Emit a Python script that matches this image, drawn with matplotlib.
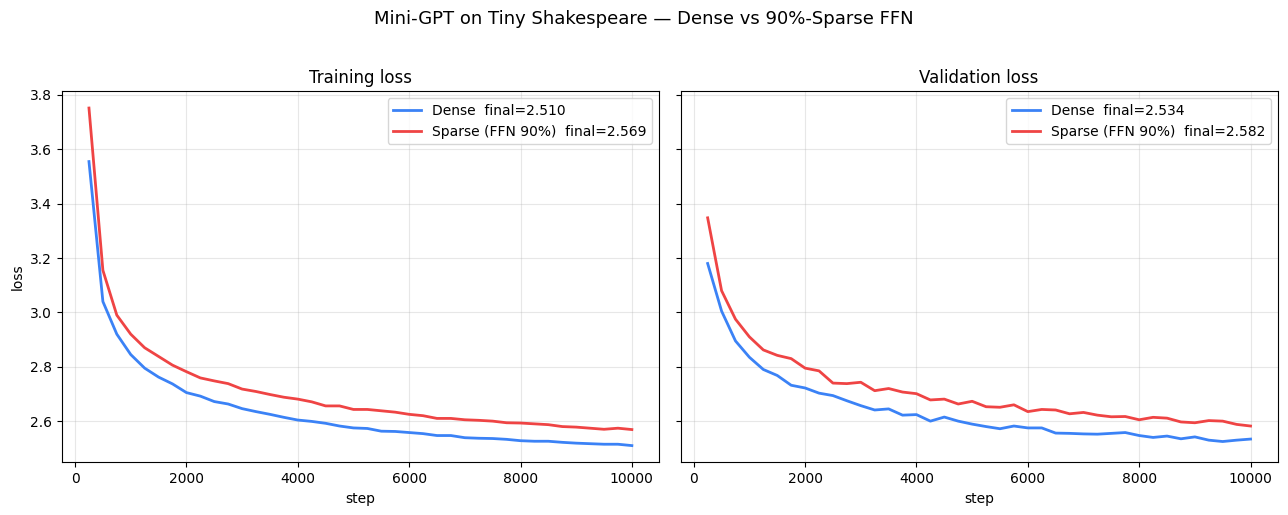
import numpy as np
import matplotlib.pyplot as plt

steps = np.arange(250, 10001, 250)

train_dense = [3.555, 3.04, 2.92, 2.845, 2.795, 2.762, 2.737, 2.705, 2.692, 2.672,
               2.663, 2.646, 2.635, 2.625, 2.614, 2.604, 2.599, 2.592, 2.582, 2.575,
               2.573, 2.563, 2.562, 2.558, 2.554, 2.547, 2.547, 2.539, 2.537, 2.536,
               2.533, 2.528, 2.526, 2.526, 2.522, 2.519, 2.517, 2.515, 2.515, 2.510]
train_sparse = [3.752, 3.155, 2.99, 2.92, 2.87, 2.838, 2.806, 2.782, 2.759, 2.748,
                2.738, 2.718, 2.709, 2.698, 2.688, 2.681, 2.671, 2.656, 2.656, 2.643,
                2.643, 2.638, 2.633, 2.625, 2.620, 2.610, 2.610, 2.605, 2.603, 2.600,
                2.594, 2.593, 2.590, 2.587, 2.580, 2.578, 2.574, 2.570, 2.574, 2.569]
val_dense = [3.18, 3.005, 2.895, 2.835, 2.79, 2.768, 2.732, 2.722, 2.703, 2.694,
             2.675, 2.657, 2.641, 2.645, 2.622, 2.624, 2.600, 2.615, 2.600, 2.589,
             2.580, 2.572, 2.582, 2.575, 2.575, 2.556, 2.555, 2.553, 2.552, 2.555,
             2.558, 2.547, 2.540, 2.545, 2.535, 2.542, 2.530, 2.525, 2.530, 2.534]
val_sparse = [3.348, 3.08, 2.975, 2.91, 2.862, 2.842, 2.83, 2.795, 2.785, 2.74,
              2.738, 2.743, 2.712, 2.72, 2.707, 2.701, 2.678, 2.681, 2.663, 2.673,
              2.653, 2.651, 2.660, 2.635, 2.643, 2.641, 2.627, 2.632, 2.622, 2.616,
              2.617, 2.605, 2.614, 2.611, 2.597, 2.594, 2.602, 2.600, 2.588, 2.582]

blue = '#3b82f6'
red = '#ef4444'

fig, axes = plt.subplots(1, 2, figsize=(12.88, 5.15), dpi=100, sharey=True)

panels = [("Training loss", train_dense, train_sparse),
          ("Validation loss", val_dense, val_sparse)]
for ax, (title, d, s) in zip(axes, panels):
    ax.plot(steps, d, color=blue, lw=2, label=f"Dense  final={d[-1]:.3f}")
    ax.plot(steps, s, color=red, lw=2, label=f"Sparse (FFN 90%)  final={s[-1]:.3f}")
    ax.set_title(title)
    ax.set_xlabel("step")
    ax.grid(True, alpha=0.3)
    ax.legend(loc='upper right')

axes[0].set_ylabel("loss")
fig.suptitle("Mini-GPT on Tiny Shakespeare — Dense vs 90%-Sparse FFN", fontsize=13, y=0.98)
fig.subplots_adjust(left=0.048, right=0.992, top=0.823, bottom=0.102, wspace=0.036)
fig.savefig("out.png")
